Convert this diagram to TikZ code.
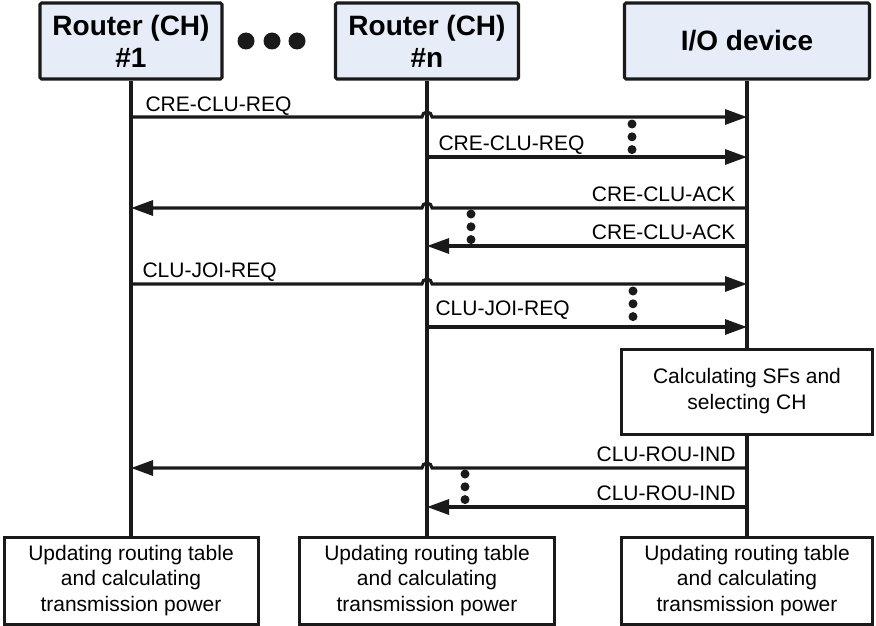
\documentclass[tikz,border=0pt]{standalone}
\usepackage{fontspec}
\setmainfont{Liberation Sans}
\usetikzlibrary{arrows.meta, positioning, calc}
\definecolor{headfill}{HTML}{E6ECF8}
\definecolor{linegray}{HTML}{1A1A1A}

\begin{document}
\begin{tikzpicture}[x=1pt, y=1pt,
  head/.style={draw=linegray, line width=3.1pt, fill=headfill,
               rounded corners=1.5pt, minimum height=76pt, align=center,
               inner sep=0pt, font=\fontsize{28}{32}\selectfont\bfseries},
  task/.style={draw=linegray, line width=3pt, fill=white,
               minimum height=87pt, align=center, inner sep=0pt,
               font=\fontsize{21}{25.5}\selectfont},
  life/.style={draw=linegray, line width=3.1pt},
  msg/.style={-{Triangle[length=22pt, width=15pt]}, draw=linegray,
              line width=3.1pt},
  lbl_r/.style={anchor=base west, inner sep=0pt, xshift=10pt, yshift=7pt,
                font=\fontsize{21}{25}\selectfont},
  lbl_l/.style={anchor=base east, inner sep=0pt, xshift=-10pt, yshift=7pt,
                font=\fontsize{21}{25}\selectfont}
]
\useasboundingbox (0,0) rectangle (876,-626);

% Participants
\node[head, minimum width=182pt] (r1) at (131,-41) {Router (CH)\\\#1};
\node[head, minimum width=183pt] (rn) at (427,-41) {Router (CH)\\\#n};
\node[head, minimum width=245pt] (io) at (747,-41) {I/O device};
\foreach \dx in {246,272,297}
  \fill[linegray] (\dx,-41) circle[radius=8.5pt];

% Final tasks
\node[task, minimum width=254pt] (u1) at (131,-580.5)
      {Updating routing table\\and calculating\\transmission power};
\node[task, minimum width=255pt] (un) at (427,-580.5)
      {Updating routing table\\and calculating\\transmission power};
\node[task, minimum width=251pt] (uio) at (747,-580.5)
      {Updating routing table\\and calculating\\transmission power};
\node[task, minimum width=251pt, minimum height=85pt,
      font=\fontsize{21}{26}\selectfont] (sf) at (747,-391.5)
      {Calculating SFs and\\selecting CH};

% Lifelines
\draw[life] (r1) -- (u1);
\draw[life] (rn) -- (un);
\draw[life] (io) -- (sf);
\draw[life] (sf) -- (uio);

% Message rows
\coordinate (m1) at (0,-117);
\coordinate (m2) at (0,-157);
\coordinate (m3) at (0,-208);
\coordinate (m4) at (0,-246);
\coordinate (m5) at (0,-284);
\coordinate (m6) at (0,-327);
\coordinate (m7) at (0,-468);
\coordinate (m8) at (0,-507);

% Messages
\draw[msg] (r1 |- m1) node[lbl_r, xshift=3pt, yshift=-1.5pt]{CRE-CLU-REQ}
      -- ($(rn |- m1)+(-5,0)$) arc[start angle=180, end angle=0, radius=5pt]
      -- (io |- m1);
\draw[msg] (rn |- m2) node[lbl_r]{CRE-CLU-REQ} -- (io |- m2);
\draw[msg] (io |- m3) node[lbl_l]{CRE-CLU-ACK}
      -- ($(rn |- m3)+(5,0)$) arc[start angle=0, end angle=180, radius=5pt]
      -- (r1 |- m3);
\draw[msg] (io |- m4) node[lbl_l]{CRE-CLU-ACK} -- (rn |- m4);
\draw[msg] (r1 |- m5) node[lbl_r]{CLU-JOI-REQ}
      -- ($(rn |- m5)+(-5,0)$) arc[start angle=180, end angle=0, radius=5pt]
      -- (io |- m5);
\draw[msg] (rn |- m6) node[lbl_r, xshift=-3pt, yshift=4.5pt]{CLU-JOI-REQ}
      -- (io |- m6);
\draw[msg] (io |- m7) node[lbl_l]{CLU-ROU-IND}
      -- ($(rn |- m7)+(5,0)$) arc[start angle=0, end angle=180, radius=5pt]
      -- (r1 |- m7);
\draw[msg] (io |- m8) node[lbl_l]{CLU-ROU-IND} -- (rn |- m8);

% Omitted routers
\foreach \dx/\dy in {632/124, 471/214, 633/291, 465/474}
  \foreach \k in {0,1,2}
    \fill[linegray] (\dx,-\dy-12.8*\k) circle[radius=4.5pt];

\end{tikzpicture}
\end{document}
